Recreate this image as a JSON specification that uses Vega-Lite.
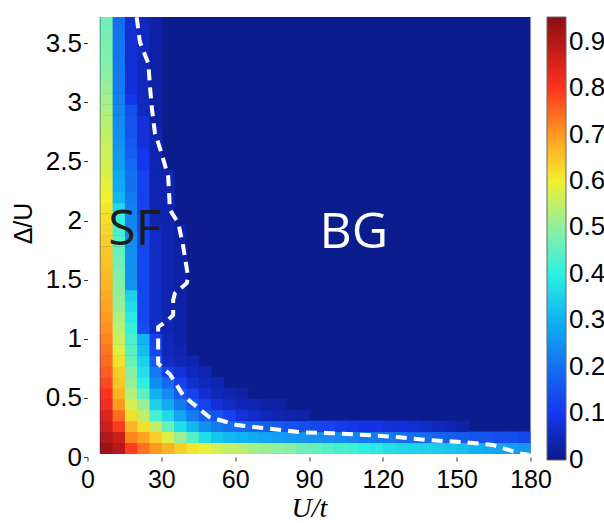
{
"$schema": "https://vega.github.io/schema/vega-lite/v6.json",
"width": 443, "height": 440,
"autosize": {"type": "none"},
"padding": {"left": 87.5, "top": 17, "right": 73.5, "bottom": 66},
"background": "white",
"config": {"view": {"stroke": null}},
"datasets": {
"bg": [{"u":5,"u2":180,"d":0.03,"d2":3.722,"v":0.006}],
"cells": [
{"u":5,"d":0.03,"v":0.93},{"u":5,"d":0.122,"v":0.9},{"u":5,"d":0.215,"v":0.87},{"u":5,"d":0.307,"v":0.85},{"u":5,"d":0.399,"v":0.82},{"u":5,"d":0.492,"v":0.8},{"u":5,"d":0.584,"v":0.78},{"u":5,"d":0.676,"v":0.76},{"u":5,"d":0.768,"v":0.745},{"u":5,"d":0.861,"v":0.735},{"u":5,"d":0.953,"v":0.72},{"u":5,"d":1.045,"v":0.71},{"u":5,"d":1.138,"v":0.7},{"u":5,"d":1.23,"v":0.69},{"u":5,"d":1.322,"v":0.68},{"u":5,"d":1.415,"v":0.67},{"u":5,"d":1.507,"v":0.66},{"u":5,"d":1.599,"v":0.655},{"u":5,"d":1.691,"v":0.65},{"u":5,"d":1.784,"v":0.64},{"u":5,"d":1.876,"v":0.63},{"u":5,"d":1.968,"v":0.62},{"u":5,"d":2.061,"v":0.61},{"u":5,"d":2.153,"v":0.6},{"u":5,"d":2.245,"v":0.59},{"u":5,"d":2.338,"v":0.58},{"u":5,"d":2.43,"v":0.57},{"u":5,"d":2.522,"v":0.565},{"u":5,"d":2.614,"v":0.56},{"u":5,"d":2.707,"v":0.55},{"u":5,"d":2.799,"v":0.54},{"u":5,"d":2.891,"v":0.53},{"u":5,"d":2.984,"v":0.52},{"u":5,"d":3.076,"v":0.51},{"u":5,"d":3.168,"v":0.5},{"u":5,"d":3.261,"v":0.49},{"u":5,"d":3.353,"v":0.485},{"u":5,"d":3.445,"v":0.48},{"u":5,"d":3.537,"v":0.475},{"u":5,"d":3.63,"v":0.47},
{"u":10,"d":0.03,"v":0.9},{"u":10,"d":0.122,"v":0.875},{"u":10,"d":0.215,"v":0.79},{"u":10,"d":0.307,"v":0.745},{"u":10,"d":0.399,"v":0.7},{"u":10,"d":0.492,"v":0.67},{"u":10,"d":0.584,"v":0.65},{"u":10,"d":0.676,"v":0.64},{"u":10,"d":0.768,"v":0.615},{"u":10,"d":0.861,"v":0.58},{"u":10,"d":0.953,"v":0.56},{"u":10,"d":1.045,"v":0.545},{"u":10,"d":1.138,"v":0.53},{"u":10,"d":1.23,"v":0.51},{"u":10,"d":1.322,"v":0.5},{"u":10,"d":1.415,"v":0.49},{"u":10,"d":1.507,"v":0.48},{"u":10,"d":1.599,"v":0.47},{"u":10,"d":1.691,"v":0.46},{"u":10,"d":1.784,"v":0.44},{"u":10,"d":1.876,"v":0.43},{"u":10,"d":1.968,"v":0.41},{"u":10,"d":2.061,"v":0.36},{"u":10,"d":2.153,"v":0.31},{"u":10,"d":2.245,"v":0.29},{"u":10,"d":2.338,"v":0.28},{"u":10,"d":2.43,"v":0.27},{"u":10,"d":2.522,"v":0.26},{"u":10,"d":2.614,"v":0.25},{"u":10,"d":2.707,"v":0.245},{"u":10,"d":2.799,"v":0.24},{"u":10,"d":2.891,"v":0.23},{"u":10,"d":2.984,"v":0.225},{"u":10,"d":3.076,"v":0.22},{"u":10,"d":3.168,"v":0.22},{"u":10,"d":3.261,"v":0.215},{"u":10,"d":3.353,"v":0.21},{"u":10,"d":3.445,"v":0.21},{"u":10,"d":3.537,"v":0.205},{"u":10,"d":3.63,"v":0.2},
{"u":15,"d":0.03,"v":0.79},{"u":15,"d":0.122,"v":0.72},{"u":15,"d":0.215,"v":0.67},{"u":15,"d":0.307,"v":0.62},{"u":15,"d":0.399,"v":0.57},{"u":15,"d":0.492,"v":0.535},{"u":15,"d":0.584,"v":0.505},{"u":15,"d":0.676,"v":0.49},{"u":15,"d":0.768,"v":0.46},{"u":15,"d":0.861,"v":0.445},{"u":15,"d":0.953,"v":0.43},{"u":15,"d":1.045,"v":0.415},{"u":15,"d":1.138,"v":0.39},{"u":15,"d":1.23,"v":0.37},{"u":15,"d":1.322,"v":0.35},{"u":15,"d":1.415,"v":0.255},{"u":15,"d":1.507,"v":0.25},{"u":15,"d":1.599,"v":0.25},{"u":15,"d":1.691,"v":0.25},{"u":15,"d":1.784,"v":0.245},{"u":15,"d":1.876,"v":0.235},{"u":15,"d":1.968,"v":0.235},{"u":15,"d":2.061,"v":0.225},{"u":15,"d":2.153,"v":0.215},{"u":15,"d":2.245,"v":0.2},{"u":15,"d":2.338,"v":0.2},{"u":15,"d":2.43,"v":0.19},{"u":15,"d":2.522,"v":0.17},{"u":15,"d":2.614,"v":0.16},{"u":15,"d":2.707,"v":0.15},{"u":15,"d":2.799,"v":0.15},{"u":15,"d":2.891,"v":0.145},{"u":15,"d":2.984,"v":0.1},{"u":15,"d":3.076,"v":0.075},{"u":15,"d":3.168,"v":0.075},{"u":15,"d":3.261,"v":0.075},{"u":15,"d":3.353,"v":0.075},{"u":15,"d":3.445,"v":0.075},{"u":15,"d":3.537,"v":0.075},{"u":15,"d":3.63,"v":0.075},
{"u":20,"d":0.03,"v":0.74},{"u":20,"d":0.122,"v":0.69},{"u":20,"d":0.215,"v":0.62},{"u":20,"d":0.307,"v":0.55},{"u":20,"d":0.399,"v":0.51},{"u":20,"d":0.492,"v":0.45},{"u":20,"d":0.584,"v":0.4},{"u":20,"d":0.676,"v":0.37},{"u":20,"d":0.768,"v":0.35},{"u":20,"d":0.861,"v":0.32},{"u":20,"d":0.953,"v":0.3},{"u":20,"d":1.045,"v":0.14},{"u":20,"d":1.138,"v":0.13},{"u":20,"d":1.23,"v":0.13},{"u":20,"d":1.322,"v":0.13},{"u":20,"d":1.415,"v":0.13},{"u":20,"d":1.507,"v":0.13},{"u":20,"d":1.599,"v":0.13},{"u":20,"d":1.691,"v":0.13},{"u":20,"d":1.784,"v":0.13},{"u":20,"d":1.876,"v":0.13},{"u":20,"d":1.968,"v":0.13},{"u":20,"d":2.061,"v":0.12},{"u":20,"d":2.153,"v":0.12},{"u":20,"d":2.245,"v":0.12},{"u":20,"d":2.338,"v":0.12},{"u":20,"d":2.43,"v":0.1},{"u":20,"d":2.522,"v":0.1},{"u":20,"d":2.614,"v":0.08},{"u":20,"d":2.707,"v":0.08},{"u":20,"d":2.799,"v":0.08},{"u":20,"d":2.891,"v":0.055},{"u":20,"d":2.984,"v":0.055},{"u":20,"d":3.076,"v":0.055},{"u":20,"d":3.168,"v":0.055},{"u":20,"d":3.261,"v":0.055},{"u":20,"d":3.353,"v":0.055},{"u":20,"d":3.445,"v":0.055},{"u":20,"d":3.537,"v":0.055},{"u":20,"d":3.63,"v":0.055},
{"u":25,"d":0.03,"v":0.7},{"u":25,"d":0.122,"v":0.64},{"u":25,"d":0.215,"v":0.55},{"u":25,"d":0.307,"v":0.43},{"u":25,"d":0.399,"v":0.35},{"u":25,"d":0.492,"v":0.3},{"u":25,"d":0.584,"v":0.245},{"u":25,"d":0.676,"v":0.21},{"u":25,"d":0.768,"v":0.16},{"u":25,"d":0.861,"v":0.13},{"u":25,"d":0.953,"v":0.12},{"u":25,"d":1.045,"v":0.06},{"u":25,"d":1.138,"v":0.06},{"u":25,"d":1.23,"v":0.06},{"u":25,"d":1.322,"v":0.06},{"u":25,"d":1.415,"v":0.06},{"u":25,"d":1.507,"v":0.06},{"u":25,"d":1.599,"v":0.06},{"u":25,"d":1.691,"v":0.06},{"u":25,"d":1.784,"v":0.06},{"u":25,"d":1.876,"v":0.06},{"u":25,"d":1.968,"v":0.04},{"u":25,"d":2.061,"v":0.04},{"u":25,"d":2.153,"v":0.04},{"u":25,"d":2.245,"v":0.04},{"u":25,"d":2.338,"v":0.04},{"u":25,"d":2.43,"v":0.04},{"u":25,"d":2.522,"v":0.04},{"u":25,"d":2.614,"v":0.04},{"u":25,"d":2.707,"v":0.04},{"u":25,"d":2.799,"v":0.03},{"u":25,"d":2.891,"v":0.03},{"u":25,"d":2.984,"v":0.03},{"u":25,"d":3.076,"v":0.03},{"u":25,"d":3.168,"v":0.03},{"u":25,"d":3.261,"v":0.03},{"u":25,"d":3.353,"v":0.03},{"u":25,"d":3.445,"v":0.03},{"u":25,"d":3.537,"v":0.03},{"u":25,"d":3.63,"v":0.03},
{"u":30,"d":0.03,"v":0.67},{"u":30,"d":0.122,"v":0.58},{"u":30,"d":0.215,"v":0.46},{"u":30,"d":0.307,"v":0.36},{"u":30,"d":0.399,"v":0.29},{"u":30,"d":0.492,"v":0.24},{"u":30,"d":0.584,"v":0.19},{"u":30,"d":0.676,"v":0.12},{"u":30,"d":0.768,"v":0.06},{"u":30,"d":0.861,"v":0.05},{"u":30,"d":0.953,"v":0.05},{"u":30,"d":1.045,"v":0.04},{"u":30,"d":1.138,"v":0.04},{"u":30,"d":1.23,"v":0.04},{"u":30,"d":1.322,"v":0.04},{"u":30,"d":1.415,"v":0.04},{"u":30,"d":1.507,"v":0.04},{"u":30,"d":1.599,"v":0.04},{"u":30,"d":1.691,"v":0.04},{"u":30,"d":1.784,"v":0.04},{"u":30,"d":1.876,"v":0.04},{"u":30,"d":1.968,"v":0.04},{"u":30,"d":2.061,"v":0.04},{"u":30,"d":2.153,"v":0.04},{"u":30,"d":2.245,"v":0.04},{"u":30,"d":2.338,"v":0.04},
{"u":35,"d":0.03,"v":0.64},{"u":35,"d":0.122,"v":0.51},{"u":35,"d":0.215,"v":0.37},{"u":35,"d":0.307,"v":0.28},{"u":35,"d":0.399,"v":0.22},{"u":35,"d":0.492,"v":0.16},{"u":35,"d":0.584,"v":0.12},{"u":35,"d":0.676,"v":0.08},{"u":35,"d":0.768,"v":0.045},{"u":35,"d":0.861,"v":0.04},{"u":35,"d":0.953,"v":0.03},{"u":35,"d":1.045,"v":0.03},{"u":35,"d":1.138,"v":0.03},{"u":35,"d":1.23,"v":0.03},{"u":35,"d":1.322,"v":0.03},{"u":35,"d":1.415,"v":0.03},{"u":35,"d":1.507,"v":0.03},{"u":35,"d":1.599,"v":0.03},{"u":35,"d":1.691,"v":0.03},{"u":35,"d":1.784,"v":0.03},{"u":35,"d":1.876,"v":0.03},
{"u":40,"d":0.03,"v":0.61},{"u":40,"d":0.122,"v":0.44},{"u":40,"d":0.215,"v":0.31},{"u":40,"d":0.307,"v":0.22},{"u":40,"d":0.399,"v":0.16},{"u":40,"d":0.492,"v":0.12},{"u":40,"d":0.584,"v":0.07},{"u":40,"d":0.676,"v":0.05},{"u":40,"d":0.768,"v":0.04},
{"u":45,"d":0.03,"v":0.59},{"u":45,"d":0.122,"v":0.37},{"u":45,"d":0.215,"v":0.25},{"u":45,"d":0.307,"v":0.17},{"u":45,"d":0.399,"v":0.12},{"u":45,"d":0.492,"v":0.07},{"u":45,"d":0.584,"v":0.05},{"u":45,"d":0.676,"v":0.04},
{"u":50,"d":0.03,"v":0.57},{"u":50,"d":0.122,"v":0.33},{"u":50,"d":0.215,"v":0.22},{"u":50,"d":0.307,"v":0.15},{"u":50,"d":0.399,"v":0.08},{"u":50,"d":0.492,"v":0.05},{"u":50,"d":0.584,"v":0.04},
{"u":55,"d":0.03,"v":0.55},{"u":55,"d":0.122,"v":0.31},{"u":55,"d":0.215,"v":0.2},{"u":55,"d":0.307,"v":0.12},{"u":55,"d":0.399,"v":0.06},{"u":55,"d":0.492,"v":0.04},
{"u":60,"d":0.03,"v":0.54},{"u":60,"d":0.122,"v":0.3},{"u":60,"d":0.215,"v":0.19},{"u":60,"d":0.307,"v":0.08},{"u":60,"d":0.399,"v":0.05},{"u":60,"d":0.492,"v":0.03},
{"u":65,"d":0.03,"v":0.52},{"u":65,"d":0.122,"v":0.29},{"u":65,"d":0.215,"v":0.18},{"u":65,"d":0.307,"v":0.06},{"u":65,"d":0.399,"v":0.04},
{"u":70,"d":0.03,"v":0.51},{"u":70,"d":0.122,"v":0.28},{"u":70,"d":0.215,"v":0.17},{"u":70,"d":0.307,"v":0.05},{"u":70,"d":0.399,"v":0.03},
{"u":75,"d":0.03,"v":0.5},{"u":75,"d":0.122,"v":0.27},{"u":75,"d":0.215,"v":0.16},{"u":75,"d":0.307,"v":0.04},{"u":75,"d":0.399,"v":0.03},
{"u":80,"d":0.03,"v":0.49},{"u":80,"d":0.122,"v":0.26},{"u":80,"d":0.215,"v":0.15},{"u":80,"d":0.307,"v":0.035},
{"u":85,"d":0.03,"v":0.47},{"u":85,"d":0.122,"v":0.255},{"u":85,"d":0.215,"v":0.14},{"u":85,"d":0.307,"v":0.03},
{"u":90,"d":0.03,"v":0.46},{"u":90,"d":0.122,"v":0.25},{"u":90,"d":0.215,"v":0.13},
{"u":95,"d":0.03,"v":0.44},{"u":95,"d":0.122,"v":0.245},{"u":95,"d":0.215,"v":0.12},
{"u":100,"d":0.03,"v":0.43},{"u":100,"d":0.122,"v":0.24},{"u":100,"d":0.215,"v":0.11},
{"u":105,"d":0.03,"v":0.42},{"u":105,"d":0.122,"v":0.23},{"u":105,"d":0.215,"v":0.1},
{"u":110,"d":0.03,"v":0.4},{"u":110,"d":0.122,"v":0.22},{"u":110,"d":0.215,"v":0.09},
{"u":115,"d":0.03,"v":0.39},{"u":115,"d":0.122,"v":0.215},{"u":115,"d":0.215,"v":0.09},
{"u":120,"d":0.03,"v":0.37},{"u":120,"d":0.122,"v":0.21},{"u":120,"d":0.215,"v":0.08},
{"u":125,"d":0.03,"v":0.36},{"u":125,"d":0.122,"v":0.2},{"u":125,"d":0.215,"v":0.08},
{"u":130,"d":0.03,"v":0.355},{"u":130,"d":0.122,"v":0.195},{"u":130,"d":0.215,"v":0.07},
{"u":135,"d":0.03,"v":0.35},{"u":135,"d":0.122,"v":0.19},{"u":135,"d":0.215,"v":0.06},
{"u":140,"d":0.03,"v":0.34},{"u":140,"d":0.122,"v":0.18},{"u":140,"d":0.215,"v":0.05},
{"u":145,"d":0.03,"v":0.33},{"u":145,"d":0.122,"v":0.17},{"u":145,"d":0.215,"v":0.04},
{"u":150,"d":0.03,"v":0.32},{"u":150,"d":0.122,"v":0.16},{"u":150,"d":0.215,"v":0.03},
{"u":155,"d":0.03,"v":0.3},{"u":155,"d":0.122,"v":0.15},
{"u":160,"d":0.03,"v":0.29},{"u":160,"d":0.122,"v":0.15},
{"u":165,"d":0.03,"v":0.28},{"u":165,"d":0.122,"v":0.14},
{"u":170,"d":0.03,"v":0.27},{"u":170,"d":0.122,"v":0.14},
{"u":175,"d":0.03,"v":0.26},{"u":175,"d":0.122,"v":0.13}
],
"line": [
{"i":0,"u":20.0,"d":3.72},{"i":1,"u":21.3,"d":3.51},{"i":2,"u":24.7,"d":3.33},{"i":3,"u":25.4,"d":3.13},{"i":4,"u":26.1,"d":2.96},{"i":5,"u":27.4,"d":2.74},{"i":6,"u":30.1,"d":2.57},{"i":7,"u":32.8,"d":2.37},{"i":8,"u":33.5,"d":2.09},{"i":9,"u":36.9,"d":1.98},{"i":10,"u":38.9,"d":1.78},{"i":11,"u":40.9,"d":1.52},{"i":12,"u":40.3,"d":1.47},{"i":13,"u":35.5,"d":1.384},{"i":14,"u":34.8,"d":1.327},{"i":15,"u":34.8,"d":1.2},{"i":16,"u":31.5,"d":1.14},{"i":17,"u":28.7,"d":1.1},{"i":18,"u":28.7,"d":0.79},{"i":19,"u":33.5,"d":0.7},{"i":20,"u":38.9,"d":0.52},{"i":21,"u":49.3,"d":0.34},{"i":22,"u":60.6,"d":0.27},{"i":23,"u":74.1,"d":0.24},{"i":24,"u":86.2,"d":0.21},{"i":25,"u":99.8,"d":0.2},{"i":26,"u":113.3,"d":0.186},{"i":27,"u":126.8,"d":0.167},{"i":28,"u":137.7,"d":0.144},{"i":29,"u":153.9,"d":0.124},{"i":30,"u":164.7,"d":0.101},{"i":31,"u":175.5,"d":0.031},{"i":32,"u":179.6,"d":0.017}
],
"labels": [{"label":"SF","u":19.2,"d":1.79},{"label":"BG","u":108.2,"d":1.77}]
},
"layer": [
{"data": {"name": "bg"}, "mark": "rect",
 "encoding": {
  "x": {"field": "u", "type": "quantitative", "title": "U/t", "scale": {"domain": [0, 180], "nice": false, "zero": false},
        "axis": {"values": [0,30,60,90,120,150,180], "format": "~g", "domain": false, "grid": false, "labelFont": "Liberation Sans", "labelFontSize": 25, "labelColor": "#000", "tickSize": 4, "tickColor": "#333", "labelPadding": 6, "labelFlush": false, "labelOverlap": false, "labelBound": false,
                 "titleFont": "Liberation Serif", "titleFontStyle": "italic", "titleFontWeight": "normal", "titleFontSize": 28, "titleColor": "#000", "titleY": 59, "titleBaseline": "alphabetic"}},
  "x2": {"field": "u2"},
  "y": {"field": "d", "type": "quantitative", "title": "Δ/U", "scale": {"domain": [0, 3.722], "nice": false, "zero": false},
        "axis": {"values": [0,0.5,1,1.5,2,2.5,3,3.5], "format": "~g", "domain": false, "grid": false, "labelFont": "Liberation Sans", "labelFontSize": 26, "labelColor": "#000", "tickSize": 4, "tickColor": "#333", "labelPadding": 2, "labelFlush": false, "labelOverlap": false, "labelBound": false,
                 "titleFont": "Liberation Sans", "titleFontWeight": "normal", "titleFontSize": 25, "titleColor": "#000", "titleAngle": -90, "titleX": -51, "titleY": 206, "titleAlign": "center", "titleBaseline": "bottom"}},
  "y2": {"field": "d2"},
  "color": {"field": "v", "type": "quantitative",
    "scale": {"domain": [-0.0005,0.1,0.2,0.3,0.4,0.5,0.6,0.7,0.8,0.9,0.953], "range": ["#0a1a86","#1636ee","#1470f0","#10b2f2","#2cf0e2","#90f0a0","#f2f030","#ff9a20","#ff3220","#b41818","#8a1010"], "interpolate": "rgb"},
    "legend": {"orient": "none", "legendX": 459.5, "legendY": 0, "direction": "vertical", "gradientLength": 443, "gradientThickness": 19, "title": null, "values": [0,0.1,0.2,0.3,0.4,0.5,0.6,0.7,0.8,0.9], "format": "~g", "labelFont": "Liberation Sans", "labelFontSize": 26, "labelColor": "#000", "labelOffset": 3, "padding": 0, "labelBaseline": "middle", "labelOverlap": false, "gradientStrokeColor": "#666", "gradientStrokeWidth": 1}}
 }},
{"data": {"name": "cells"}, "mark": {"type": "rect", "binSpacing": 0, "clip": true},
 "encoding": {
  "x": {"field": "u", "type": "quantitative", "title": "U/t", "bin": {"binned": true, "step": 5.25}},
  "y": {"field": "d", "type": "quantitative", "title": "Δ/U", "bin": {"binned": true, "step": 0.097}},
  "color": {"field": "v", "type": "quantitative"}
 }},
{"data": {"name": "line"}, "mark": {"type": "line", "color": "white", "strokeWidth": 4, "strokeDash": [11, 7]},
 "encoding": {
  "x": {"field": "u", "type": "quantitative", "title": "U/t"},
  "y": {"field": "d", "type": "quantitative", "title": "Δ/U"},
  "order": {"field": "i", "type": "quantitative"}
 }},
{"data": {"name": "labels"}, "mark": {"type": "text", "font": "Open Sans", "fontSize": 50, "align": "center", "baseline": "alphabetic"},
 "encoding": {
  "x": {"field": "u", "type": "quantitative", "title": "U/t"},
  "y": {"field": "d", "type": "quantitative", "title": "Δ/U"},
  "text": {"field": "label"},
  "color": {"condition": {"test": "datum.label === 'BG'", "value": "white"}, "value": "#1c1c1c"}
 }}
]
}
